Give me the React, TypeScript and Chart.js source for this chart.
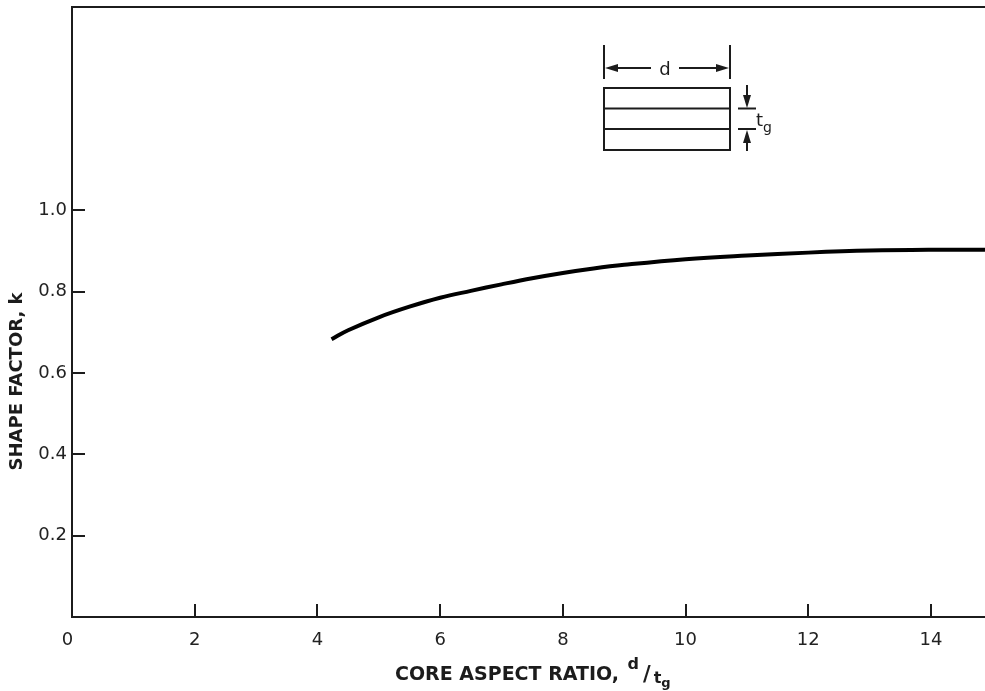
import React, { useEffect, useRef } from 'react';
import { Chart, registerables } from 'chart.js';

Chart.register(...registerables);

// ---- data ----
const aspectRatio = [4.23, 4.5, 5.0, 5.5, 6.0, 6.5, 7.0, 7.5, 8.0, 8.5, 9.0, 10.0, 11.0, 12.0, 13.0, 14.0, 14.88];
const shapeFactor = [0.683, 0.705, 0.737, 0.763, 0.785, 0.802, 0.818, 0.833, 0.846, 0.857, 0.866, 0.88, 0.889, 0.896, 0.901, 0.903, 0.903];
const xTicks = [0, 2, 4, 6, 8, 10, 12, 14];
const yTicks = [0.2, 0.4, 0.6, 0.8, 1.0];
const xTitleMain = 'CORE ASPECT RATIO, ';
const yTitle = 'SHAPE FACTOR, k';

const W = 985;
const H = 691;
const INK = '#1c1c1c';
const FONT = '"DejaVu Sans", Verdana, sans-serif';

const decor = {
  id: 'decor',
  afterDraw(chart: any) {
    const { ctx, chartArea, scales } = chart;
    const xs = scales.x;
    const ys = scales.y;
    ctx.save();
    ctx.strokeStyle = INK;
    ctx.fillStyle = INK;
    ctx.lineWidth = 2;
    const line = (a: number, b: number, c: number, d: number) => {
      ctx.beginPath();
      ctx.moveTo(a, b);
      ctx.lineTo(c, d);
      ctx.stroke();
    };
    const tri = (p: number[][]) => {
      ctx.beginPath();
      ctx.moveTo(p[0][0], p[0][1]);
      ctx.lineTo(p[1][0], p[1][1]);
      ctx.lineTo(p[2][0], p[2][1]);
      ctx.closePath();
      ctx.fill();
    };
    // top frame line
    line(chartArea.left - 1, chartArea.top, chartArea.right, chartArea.top);
    // inward tick marks
    xs.ticks.forEach((t: any) => {
      if (t.value === 0) return;
      const p = Math.round(xs.getPixelForValue(t.value));
      line(p, chartArea.bottom, p, chartArea.bottom - 13);
    });
    ys.ticks.forEach((t: any) => {
      const p = Math.round(ys.getPixelForValue(t.value));
      line(chartArea.left, p, chartArea.left + 13, p);
    });

    // x axis title with d/t_g
    ctx.textBaseline = 'alphabetic';
    ctx.textAlign = 'left';
    let cx = 395;
    ctx.font = `bold 19px ${FONT}`;
    ctx.fillText(xTitleMain, cx, 680);
    cx += ctx.measureText(xTitleMain).width + 2;
    ctx.font = `bold 16px ${FONT}`;
    ctx.fillText('d', cx, 669);
    cx += ctx.measureText('d').width + 4;
    ctx.font = `bold 21px ${FONT}`;
    ctx.fillText('/', cx, 681);
    cx += ctx.measureText('/').width + 3;
    ctx.font = `bold 16px ${FONT}`;
    ctx.fillText('t', cx, 683);
    cx += ctx.measureText('t').width;
    ctx.font = `bold 13px ${FONT}`;
    ctx.fillText('g', cx, 687);

    // y axis title
    ctx.save();
    ctx.translate(17, 381.5);
    ctx.rotate(-Math.PI / 2);
    ctx.textAlign = 'center';
    ctx.textBaseline = 'middle';
    ctx.font = `bold 18px ${FONT}`;
    ctx.fillText(yTitle, 0, 0);
    ctx.restore();

    // inset diagram
    ctx.lineWidth = 2;
    ctx.strokeRect(604, 88, 126, 62);
    line(604, 108.5, 730, 108.5);
    line(604, 129, 730, 129);
    line(604, 45, 604, 79);
    line(730, 45, 730, 79);
    line(612, 68, 651, 68);
    line(679, 68, 722, 68);
    tri([[605, 68], [618, 64], [618, 72]]);
    tri([[729, 68], [716, 64], [716, 72]]);
    ctx.font = `18px ${FONT}`;
    ctx.textAlign = 'center';
    ctx.fillText('d', 665, 75);
    // t_g dimension
    line(738, 108.5, 756, 108.5);
    line(738, 129, 756, 129);
    line(747, 85, 747, 98);
    tri([[747, 108], [743, 95], [751, 95]]);
    line(747, 140, 747, 151);
    tri([[747, 130], [743, 143], [751, 143]]);
    ctx.textAlign = 'left';
    ctx.font = `18px ${FONT}`;
    ctx.fillText('t', 756, 126);
    const tw = ctx.measureText('t').width;
    ctx.font = `14px ${FONT}`;
    ctx.fillText('g', 756 + tw, 132);
    ctx.restore();
  },
};

export default function App() {
  const ref = useRef<HTMLCanvasElement | null>(null);
  useEffect(() => {
    if (!ref.current) return;
    const chart = new Chart(ref.current, {
      type: 'line',
      data: {
        datasets: [
          {
            data: aspectRatio.map((x, i) => ({ x, y: shapeFactor[i] })),
            borderColor: '#000',
            borderWidth: 4,
            borderCapStyle: 'butt',
            borderJoinStyle: 'round',
            pointRadius: 0,
            fill: false,
            tension: 0.4,
          },
        ],
      },
      options: {
        responsive: false,
        animation: false,
        devicePixelRatio: 1,
        layout: { padding: { top: 7, left: 0, right: 0, bottom: 0 } },
        plugins: { legend: { display: false }, tooltip: { enabled: false } },
        scales: {
          x: {
            type: 'linear',
            min: 0,
            max: 14.88,
            afterBuildTicks: (s: any) => {
              s.ticks = xTicks.map((v) => ({ value: v }));
            },
            afterFit: (s: any) => {
              s.height = 74;
              s.paddingLeft = 0;
              s.paddingRight = 0;
            },
            grid: { display: false, drawTicks: false },
            border: { display: true, color: INK, width: 2 },
            ticks: {
              color: '#222',
              font: { family: FONT, size: 18 },
              padding: 13,
              maxRotation: 0,
              autoSkip: false,
              callback: (v: any) => (v === 0 ? '0\u2002' : String(v)),
            },
          },
          y: {
            type: 'linear',
            min: 0,
            max: 1.5,
            afterBuildTicks: (s: any) => {
              s.ticks = yTicks.map((v) => ({ value: v }));
            },
            afterFit: (s: any) => {
              s.width = 72;
              s.paddingTop = 0;
              s.paddingBottom = 0;
            },
            grid: { display: false, drawTicks: false },
            border: { display: true, color: INK, width: 2 },
            ticks: {
              color: '#222',
              font: { family: FONT, size: 18 },
              padding: 5,
              autoSkip: false,
              callback: (v: any) => Number(v).toFixed(1),
            },
          },
        },
      },
      plugins: [decor],
    } as any);
    return () => chart.destroy();
  }, []);
  return (
    <div style={{ position: 'absolute', left: 0, top: 0, width: W, height: H, background: '#fff' }}>
      <canvas ref={ref} width={W} height={H} style={{ display: 'block', width: W, height: H }} />
    </div>
  );
}
